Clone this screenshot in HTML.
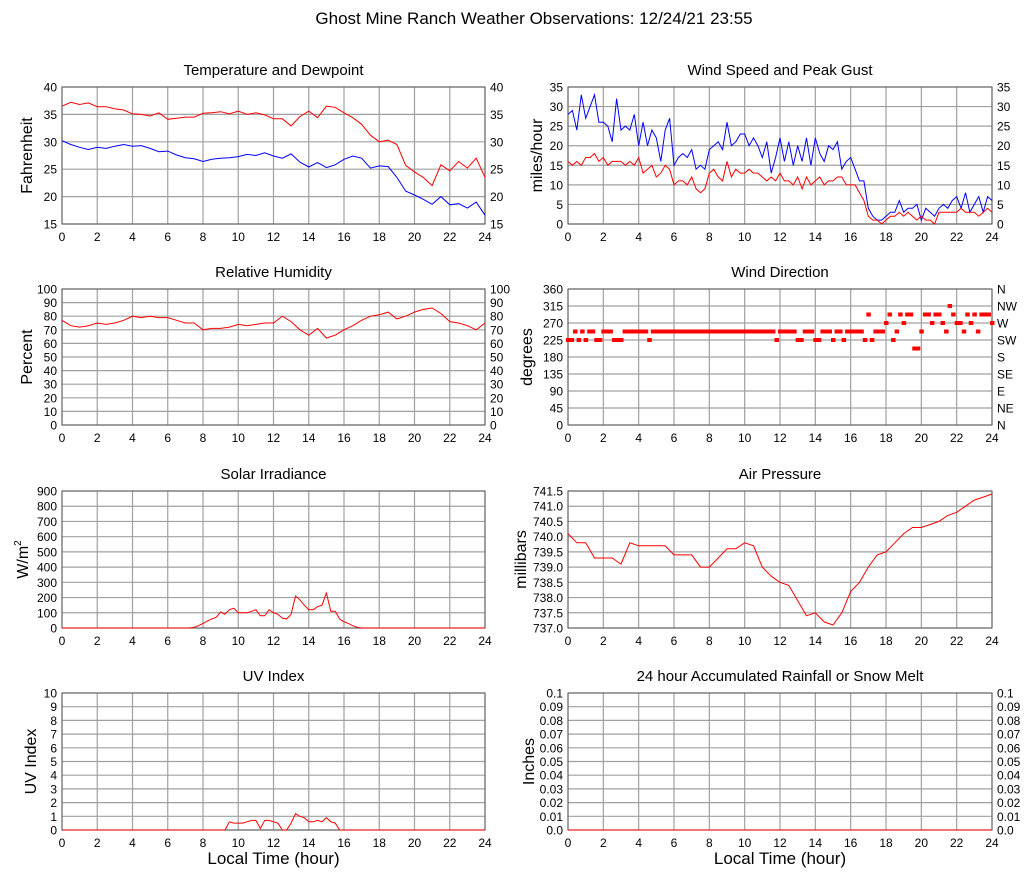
<!DOCTYPE html>
<html><head><meta charset="utf-8"><style>
body{margin:0;background:#fff;}
svg text{font-family:"Liberation Sans",sans-serif;fill:#000;}
</style></head><body>
<svg id="c" width="1027" height="878" xmlns="http://www.w3.org/2000/svg">
<text x="534" y="24" font-size="17" text-anchor="middle">Ghost Mine Ranch Weather Observations: 12/24/21 23:55</text>
</svg>
<script>
// ---- data ----
const tempF = [36.5,37.2,36.8,37.1,36.4,36.4,36.0,35.8,35.1,35.0,34.7,35.3,34.1,34.3,34.5,34.5,35.2,35.3,35.5,35.1,35.6,35.0,35.3,34.9,34.2,34.2,32.9,34.6,35.6,34.4,36.5,36.3,35.3,34.4,33.2,31.2,30.0,30.3,29.5,25.7,24.5,23.5,22.0,25.8,24.7,26.4,25.2,27.0,23.5];
const dewF = [30.2,29.5,29.0,28.6,29.0,28.8,29.2,29.5,29.2,29.3,28.8,28.2,28.3,27.6,27.1,26.9,26.4,26.8,27.0,27.1,27.3,27.7,27.5,28.0,27.4,27.0,27.8,26.3,25.4,26.2,25.3,25.8,26.8,27.4,27.0,25.2,25.6,25.5,23.5,21.0,20.3,19.5,18.6,20.0,18.5,18.7,17.9,19.0,16.6];
const gust = [28,29,24,33,27,30,33,26, 26,25,21,32,24,25,24,28, 20,26,20,24,22,16,24,27, 15,17,18,17,19,14,15,14, 19,20,21,19,26,20,21,23, 23,20,22,20,17,21,13,17, 22,16,21,15,20,16,22,15, 22,18,16,20,19,21,14,16, 17,14,11,11,4,2,1,1, 2,3,3,6,3,4,4,5, 1,4,3,2,4,5,4,6, 7,4,8,3,5,7,3,7, 6];
const speed = [16,15,16,15,17,17,18,16, 17,15,16,16,16,15,16,15, 17,13,14,15,12,13,15,14, 10,11,11,10,12,9,8,9, 13,14,12,11,16,12,14,13, 13,14,13,13,12,11,12,11, 13,11,11,10,12,9,12,10, 11,12,10,11,11,12,12,10, 10,10,8,6,2,1,1,0, 1,2,2,3,2,3,2,1, 2,1,1,0,3,3,3,3, 3,4,3,3,3,2,3,4, 3];
const humidity = [77,73,72,73,75,74,75,77,80,79,80,79,79,77,75,75,70,71,71,72,74,73,74,75,75,80,76,70,66,71,64,66,70,73,77,80,81,83,78,80,83,85,86,82,76,75,73,70,75];
const windDir = [225,225,247.5,225,247.5,225,247.5,247.5,225,225, 247.5,247.5,247.5,225,225,225,247.5,247.5,247.5,247.5, 247.5,247.5,247.5,225,247.5,247.5,247.5,247.5,247.5,247.5,
247.5,247.5,247.5,247.5,247.5,247.5,247.5,247.5,247.5,247.5, 247.5,247.5,247.5,247.5,247.5,247.5,247.5,247.5,247.5,247.5, 247.5,247.5,247.5,247.5,247.5,247.5,247.5,247.5,247.5,225,
247.5,247.5,247.5,247.5,247.5,225,225,247.5,247.5,247.5, 225,225,247.5,247.5,247.5,225,247.5,247.5,225,247.5, 247.5,247.5,247.5,247.5,225,292.5,225,247.5,247.5,247.5,
270,292.5,225,247.5,292.5,270,292.5,292.5,202.5,202.5, 247.5,292.5,292.5,270,292.5,292.5,270,247.5,315,292.5, 270,270,247.5,292.5,270,292.5,247.5,292.5,292.5,292.5,270];
const solar = [0,0,0,0,0,0,0,0, 0,0,0,0,0,0,0,0, 0,0,0,0,0,0,0,0, 0,0,0,0,0,0,5,15, 30,45,60,70,105,90,120,130, 100,100,100,110,120,80,80,120, 100,90,65,60,90,210,185,150, 120,120,140,150,230,110,110,60, 40,30,15,5,0,0,0,0, 0,0,0,0,0,0,0,0, 0,0,0,0,0,0,0,0, 0,0,0,0,0,0,0,0, 0];
const pressure = [740.1,739.8,739.8,739.3,739.3,739.3,739.1,739.8,739.7,739.7,739.7,739.7,739.4,739.4,739.4,739.0,739.0,739.3,739.6,739.6,739.8,739.7,739.0,738.7,738.5,738.4,737.9,737.4,737.5,737.2,737.1,737.5,738.2,738.5,739.0,739.4,739.5,739.8,740.1,740.3,740.3,740.4,740.5,740.7,740.8,741.0,741.2,741.3,741.4];
const uv = [0,0,0,0,0,0,0,0, 0,0,0,0,0,0,0,0, 0,0,0,0,0,0,0,0, 0,0,0,0,0,0,0,0, 0,0,0,0,0,0,0.6,0.5, 0.5,0.5,0.6,0.7,0.7,0.1,0.7,0.7, 0.6,0.5,0,0,0.5,1.2,1.0,0.9, 0.6,0.6,0.7,0.6,0.9,0.6,0.5,0, 0,0,0,0,0,0,0,0, 0,0,0,0,0,0,0,0, 0,0,0,0,0,0,0,0, 0,0,0,0,0,0,0,0, 0];
const rain = [0,0,0,0,0,0,0,0,0,0,0,0,0,0,0,0,0,0,0,0,0,0,0,0,0];
const xTicks = [0,2,4,6,8,10,12,14,16,18,20,22,24];
const tempTicks = [15,20,25,30,35,40];
const windTicks = [0,5,10,15,20,25,30,35];
const humTicks = [0,10,20,30,40,50,60,70,80,90,100];
const dirTicks = [0,45,90,135,180,225,270,315,360];
const dirLabels = ["N","NE","E","SE","S","SW","W","NW","N"];
const solarTicks = [0,100,200,300,400,500,600,700,800,900];
const presTicks = [737.0,737.5,738.0,738.5,739.0,739.5,740.0,740.5,741.0,741.5];
const uvTicks = [0,1,2,3,4,5,6,7,8,9,10];
const rainTicks = [0,0.01,0.02,0.03,0.04,0.05,0.06,0.07,0.08,0.09,0.1];
const rainLabels = ["0.0","0.01","0.02","0.03","0.04","0.05","0.06","0.07","0.08","0.09","0.1"];

const svg = document.getElementById('c');
const NS = 'http://www.w3.org/2000/svg';
function mk(tag, attrs, parent){const e=document.createElementNS(NS,tag);for(const k in attrs)e.setAttribute(k,attrs[k]);(parent||svg).appendChild(e);return e;}

function panel(o){
  const g = mk('g',{});
  
  
  const W=o.x1-o.x0, H=o.y1-o.y0;
  const xs = h => o.x0 + h/24*W;
  const ys = v => o.y1 - (v-o.ymin)/(o.ymax-o.ymin)*H;
  const t = mk('text',{x:(o.x0+o.x1)/2,y:o.y0-12,'font-size':15,'text-anchor':'middle'},g);
  t.textContent=o.title;
  
  
  o.yticks.forEach((v,i)=>{
    const y=ys(v);
    const gl=mk('line',{x1:o.x0,x2:o.x1,y1:y,y2:y,stroke:'#a0a0a0','stroke-width':1.2},g);
    
    
    const lab = o.ylabels? o.ylabels[i] : (o.fmt? o.fmt(v): String(v));
    const tl=mk('text',{x:o.x0-5,y:y+4.5,'font-size':12,'text-anchor':'end'},g);
    tl.textContent=o.leftLabels? o.leftLabels[i] : lab;
    
    
    if(o.right){
      const tr=mk('text',{x:o.x1+5,y:y+4.5,'font-size':12,'text-anchor':'start'},g);
      tr.textContent=lab;
      
      
    }
  });
  xTicks.forEach(h=>{
    const x=xs(h);
    const vl=mk('line',{x1:x,x2:x,y1:o.y0,y2:o.y1,stroke:'#a0a0a0','stroke-width':1.2},g);
    
    
    const tl=mk('text',{x:x,y:o.y1+17,'font-size':12,'text-anchor':'middle'},g);
    tl.textContent=h;
    
    
  });
  const fr=mk('rect',{x:o.x0,y:o.y0,width:W,height:H,fill:'none',stroke:'#555','stroke-width':1},g);
  
  
  const cy=(o.y0+o.y1)/2, ax=o.x0-o.tOff;
  const yt=mk('text',{x:ax,y:cy,'font-size':16,'text-anchor':'middle',transform:`rotate(-90 ${ax} ${cy})`},g);
  
  
  if(o.ytitleSup){yt.textContent=o.ytitle;const s=mk('tspan',{dy:-7,'font-size':10},yt);s.textContent=o.ytitleSup;}
  else yt.textContent=o.ytitle;
  if(o.xtitle){
    const xt=mk('text',{x:(o.x0+o.x1)/2,y:o.y1+34,'font-size':17,'text-anchor':'middle'},g);
    xt.textContent='Local Time (hour)';
    
    
  }
  (o.series||[]).forEach(s=>{
    const n=s.data.length;
    const pts=s.data.map((v,i)=>xs(i*24/(n-1)).toFixed(1)+','+ys(v).toFixed(1)).join(' ');
    const pl=mk('polyline',{points:pts,fill:'none',stroke:s.color,'stroke-width':1},g);
    
    
  });
  if(o.dots){
    const n=o.dots.length;
    o.dots.forEach((v,i)=>{
      const d=mk('rect',{x:xs(i*24/(n-1))-2,y:ys(v)-2,width:4.5,height:4,fill:'#ff0000'},g);
      
      
    });
  }
}
const L0=62,L1=485,R0=568,R1=992;
const rows=[[87,224],[289,425],[491,628],[693,830]];
panel({name:'temperature',title:'Temperature and Dewpoint',x0:L0,x1:L1,y0:rows[0][0],y1:rows[0][1],ymin:15,ymax:40,yticks:tempTicks,right:true,ytitle:'Fahrenheit',tOff:30,
  series:[{name:'temperature-line',data:tempF,color:'#ff0000'},{name:'dewpoint-line',data:dewF,color:'#0000ff'}]});
panel({name:'wind-speed',title:'Wind Speed and Peak Gust',x0:R0,x1:R1,y0:rows[0][0],y1:rows[0][1],ymin:0,ymax:35,yticks:windTicks,right:true,ytitle:'miles/hour',tOff:26,
  series:[{name:'peak-gust-line',data:gust,color:'#0000ff'},{name:'wind-speed-line',data:speed,color:'#ff0000'}]});
panel({name:'humidity',title:'Relative Humidity',x0:L0,x1:L1,y0:rows[1][0],y1:rows[1][1],ymin:0,ymax:100,yticks:humTicks,right:true,ytitle:'Percent',tOff:30,
  series:[{name:'humidity-line',data:humidity,color:'#ff0000'}]});
panel({name:'wind-direction',title:'Wind Direction',x0:R0,x1:R1,y0:rows[1][0],y1:rows[1][1],ymin:0,ymax:360,yticks:dirTicks,right:true,ylabels:dirLabels,leftLabels:dirTicks.map(String),ytitle:'degrees',tOff:36,
  dots:windDir});
panel({name:'solar',title:'Solar Irradiance',x0:L0,x1:L1,y0:rows[2][0],y1:rows[2][1],ymin:0,ymax:900,yticks:solarTicks,ytitle:'W/m',ytitleSup:'2',tOff:34,
  series:[{name:'solar-line',data:solar,color:'#ff0000'}]});
panel({name:'pressure',title:'Air Pressure',x0:R0,x1:R1,y0:rows[2][0],y1:rows[2][1],ymin:737,ymax:741.5,yticks:presTicks,fmt:v=>v.toFixed(1),ytitle:'millibars',tOff:42,
  series:[{name:'pressure-line',data:pressure,color:'#ff0000'}]});
panel({name:'uv-index',title:'UV Index',x0:L0,x1:L1,y0:rows[3][0],y1:rows[3][1],ymin:0,ymax:10,yticks:uvTicks,ytitle:'UV Index',xtitle:true,tOff:26,
  series:[{name:'uv-line',data:uv,color:'#ff0000'}]});
panel({name:'rainfall',title:'24 hour Accumulated Rainfall or Snow Melt',x0:R0,x1:R1,y0:rows[3][0],y1:rows[3][1],ymin:0,ymax:0.1,yticks:rainTicks,ylabels:rainLabels,right:true,ytitle:'Inches',xtitle:true,tOff:34,
  series:[{name:'rainfall-line',data:rain,color:'#ff0000'}]});
</script>
</body></html>
